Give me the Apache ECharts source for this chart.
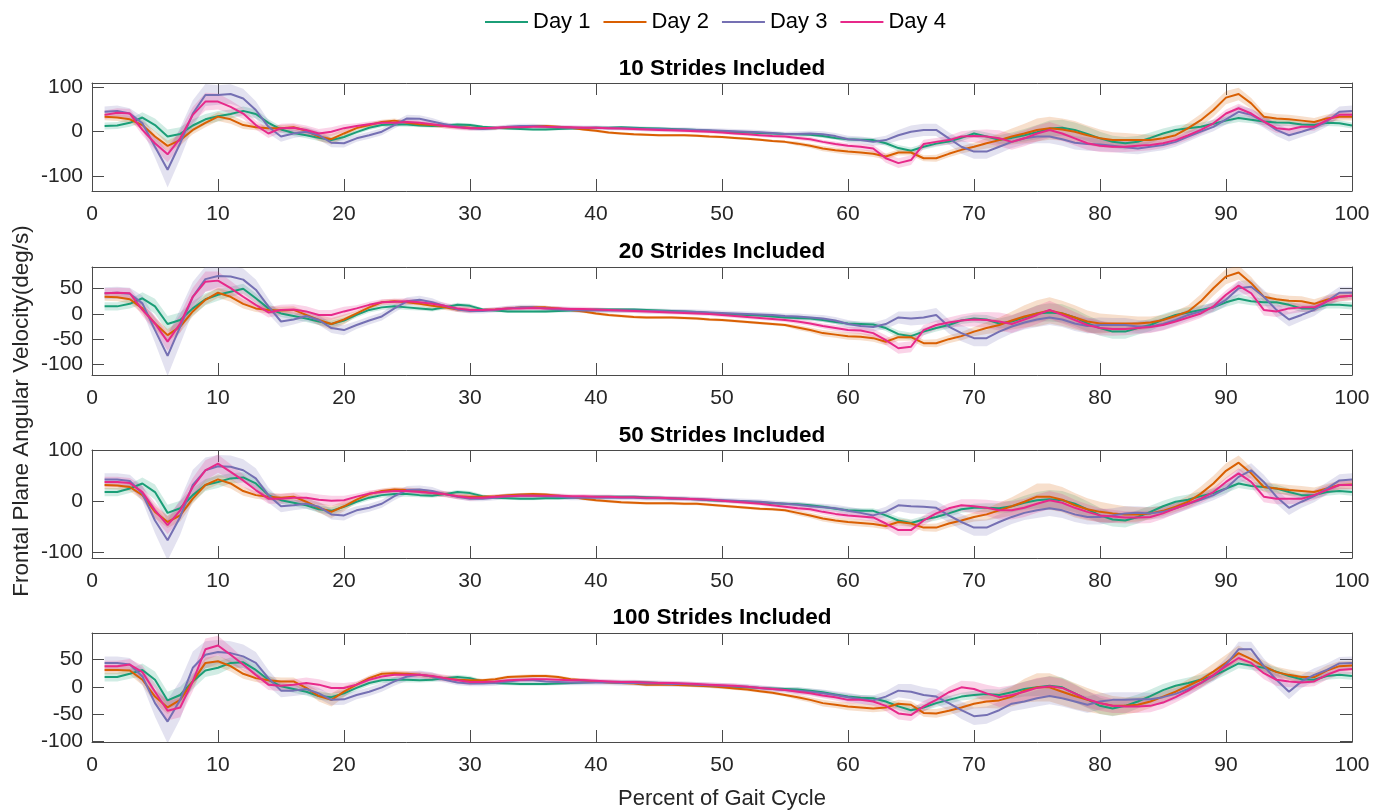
<!DOCTYPE html>
<html><head><meta charset="utf-8">
<script src="https://cdn.jsdelivr.net/npm/echarts@6/dist/echarts.min.js"></script>
<style>html,body{margin:0;padding:0;background:#fff}#c{width:1386px;height:812px}</style>
</head><body><div id="c"></div>
<script>
// ---------------- DATA ----------------
const dayNames = ['Day 1', 'Day 2', 'Day 3', 'Day 4'];
const panelTitles = ['10 Strides Included', '20 Strides Included', '50 Strides Included', '100 Strides Included'];
const xTicks = [0, 10, 20, 30, 40, 50, 60, 70, 80, 90, 100];
const yTicks10 = [-100, 0, 100];
const yTicks20 = [-100, -50, 0, 50];
const yTicks50 = [-100, 0, 100];
const yTicks100 = [-100, -50, 0, 50];
const yRange10 = [-134, 110];
const yRange20 = [-121, 93];
const yRange50 = [-112, 101];
const yRange100 = [-101.5, 99];
// gait cycle percent 1..100 (one sample per percent)
const gaitPercent = Array.from({length: 100}, (_, i) => i + 1);

// 10 strides
const day1_10 = [13,14,20,32,15,-11,-5,14,28,35, 40,47,40,20,5,-3,-8,-14,-19,-12, -1,9,15,17,16,14,13,14,16,15, 11,9,7,6,5,5,6,7,8,9, 9,10,9,8,7,6,5,4,2,0, -1,-2,-3,-4,-5,-6,-7,-10,-14,-17, -18,-19,-26,-37,-43,-34,-27,-22,-14,-4, -11,-18,-14,-8,-1,7,9,4,-5,-15, -23,-26,-23,-14,-4,4,8,11,18,25, 31,27,23,21,20,16,15,20,19,14];
const day2_10 = [34,32,28,15,-11,-32,-19,4,20,34, 28,15,10,8,8,10,2,-11,-17,-4, 8,15,22,25,20,17,15,13,11,9, 8,8,10,11,13,13,11,9,5,2, -2,-4,-6,-7,-8,-8,-8,-9,-11,-12, -14,-16,-18,-21,-23,-27,-32,-38,-42,-45, -47,-50,-56,-47,-47,-60,-60,-50,-41,-34, -26,-19,-11,-4,4,8,5,0,-8,-15, -19,-19,-19,-19,-15,-8,8,26,49,77, 85,64,34,30,28,25,22,30,34,34];
const day3_10 = [45,47,41,19,-34,-86,-26,41,83,83, 85,75,49,11,-11,-4,0,-8,-25,-26, -15,-8,0,15,30,29,23,17,11,8, 6,8,11,13,13,11,10,9,9,9, 8,8,7,6,6,5,5,4,3,2, 1,0,-1,-3,-5,-5,-4,-6,-10,-17, -19,-23,-19,-8,0,4,4,-15,-34,-45, -45,-34,-23,-15,-11,-11,-17,-25,-28,-29, -32,-35,-38,-34,-30,-23,-11,0,11,28, 45,38,23,4,-8,0,9,23,45,47];
const day4_10 = [38,43,41,4,-26,-51,-15,38,68,68, 56,41,15,-4,8,9,4,-4,0,8, 13,17,20,20,22,20,17,13,10,8, 8,9,10,10,11,11,10,10,9,9, 8,7,6,5,4,3,2,1,0,-2, -4,-6,-8,-10,-11,-14,-17,-23,-28,-32, -34,-38,-60,-71,-64,-28,-23,-19,-11,-10, -11,-15,-23,-15,-4,4,-4,-15,-26,-32, -34,-34,-32,-30,-26,-19,-8,4,19,41, 53,41,23,8,5,11,11,26,38,38];

// 20 strides
const day1_20 = [15,15,20,31,15,-20,-12,11,29,38, 44,50,31,11,1,-4,-9,-15,-20,-13, -2,8,13,15,13,11,9,13,18,16, 9,7,5,5,5,5,6,7,8,9, 9,9,9,8,7,6,5,4,2,0, -1,-2,-3,-5,-7,-8,-9,-12,-16,-19, -20,-21,-28,-40,-44,-35,-28,-22,-13,-9, -11,-19,-15,-7,1,3,1,-7,-19,-28, -35,-35,-28,-22,-11,-2,3,8,13,23, 30,25,23,23,18,11,11,18,18,16];
const day2_20 = [34,33,29,11,-19,-42,-25,5,28,42, 34,20,11,8,7,8,-2,-12,-20,-11, 1,13,23,25,23,20,16,13,9,8, 8,9,11,13,13,13,11,8,5,1, -2,-4,-6,-7,-7,-7,-8,-9,-11,-12, -14,-16,-18,-20,-22,-27,-32,-38,-41,-44, -45,-48,-55,-46,-46,-58,-58,-50,-44,-35, -28,-22,-13,-5,1,7,1,-7,-15,-19, -19,-19,-19,-17,-12,-4,5,25,51,74, 82,61,34,29,26,25,20,28,34,36];
const day3_20 = [41,42,40,21,-32,-83,-25,34,69,75, 74,68,48,15,-15,-11,-4,-12,-28,-32, -22,-13,-5,11,25,28,23,16,9,6, 6,8,11,13,13,11,9,8,7,7, 7,7,7,6,6,5,5,4,3,2, 1,0,-1,-2,-4,-5,-7,-9,-13,-20, -24,-26,-20,-7,-9,-7,-2,-25,-38,-48, -48,-35,-25,-17,-11,-7,-11,-19,-24,-22, -22,-22,-25,-25,-20,-12,-2,5,13,28, 51,54,34,8,-11,-2,8,25,42,42];
const day4_20 = [41,42,41,8,-19,-55,-19,34,64,66, 51,34,18,3,8,9,5,-2,-2,5, 11,18,23,24,25,23,20,16,11,8, 8,9,11,11,12,11,11,10,10,9, 8,7,6,5,4,3,2,1,0,-2, -4,-6,-8,-10,-12,-15,-19,-24,-28,-32, -33,-38,-52,-68,-65,-32,-22,-17,-13,-11, -12,-15,-20,-11,-2,8,-2,-12,-22,-28, -30,-30,-28,-26,-22,-15,-7,1,15,38, 56,41,8,5,11,13,13,25,34,36];

// 50 strides
const day1_50 = [18,18,25,35,18,-23,-14,12,32,38, 45,47,35,12,2,-3,-8,-16,-19,-11, -1,7,12,14,14,12,11,14,18,16, 10,7,6,5,5,6,6,7,8,9, 9,9,9,8,7,6,5,4,2,1, 0,-1,-2,-4,-5,-6,-8,-11,-15,-18, -19,-19,-28,-38,-43,-36,-31,-24,-16,-13, -13,-14,-10,-3,2,4,2,-5,-16,-28, -36,-38,-31,-21,-10,-1,3,10,16,25, 35,30,28,25,18,12,12,18,20,18];
const day2_50 = [32,31,28,12,-21,-41,-28,5,32,43, 35,20,12,9,7,9,-1,-13,-21,-10, 3,14,20,23,22,20,16,14,10,9, 9,10,12,13,14,13,11,9,5,2, 0,-2,-3,-4,-4,-4,-5,-5,-7,-9, -11,-13,-15,-16,-18,-23,-28,-34,-38,-41, -43,-45,-49,-41,-44,-52,-52,-44,-38,-31, -26,-18,-10,-1,9,9,3,-8,-16,-21, -24,-26,-26,-24,-19,-11,-1,15,35,60, 76,55,28,25,22,20,18,25,32,33];
const day3_50 = [43,43,40,15,-38,-77,-31,32,61,69, 68,61,45,12,-10,-8,-5,-11,-26,-28, -18,-13,-5,10,22,23,20,14,9,5, 5,7,10,11,11,10,9,7,7,7, 7,7,7,6,6,5,5,4,3,2, 1,0,-1,-3,-5,-7,-10,-12,-14,-19, -23,-28,-21,-8,-10,-11,-13,-28,-41,-52, -52,-41,-31,-23,-18,-14,-18,-26,-31,-31, -28,-24,-23,-24,-21,-14,-5,3,12,25, 48,61,38,9,-13,-1,10,25,41,43];
const day4_50 = [38,38,36,18,-18,-47,-18,28,61,74, 58,41,22,5,5,7,7,3,1,2, 9,15,18,20,20,18,16,14,10,7, 7,9,10,11,11,11,11,10,10,9, 9,8,8,7,7,6,5,4,3,1, -1,-3,-5,-8,-11,-14,-16,-21,-25,-28, -30,-32,-44,-57,-57,-38,-24,-14,-8,-10, -13,-18,-18,-13,-5,2,-3,-13,-21,-28, -30,-32,-32,-31,-24,-14,-5,5,18,38, 55,38,9,5,5,5,12,22,32,32];

// 100 strides
const day1_100 = [18,18,24,31,13,-25,-15,10,30,35, 44,45,31,13,1,-4,-9,-17,-19,-12, -2,7,12,13,13,12,13,16,18,16, 10,7,6,5,5,5,6,7,8,9, 9,9,9,8,7,6,5,4,2,1, 0,-1,-2,-3,-4,-5,-7,-10,-14,-18, -20,-21,-27,-36,-43,-38,-30,-24,-18,-15, -13,-15,-10,-4,-1,2,-1,-12,-23,-35, -40,-35,-27,-17,-6,2,7,13,20,31, 43,39,35,28,20,14,13,20,22,20];
const day2_100 = [31,31,30,13,-18,-38,-24,10,44,47, 38,24,16,12,10,10,-2,-17,-24,-9, 4,16,24,25,24,22,19,16,13,12, 12,14,18,19,20,20,18,14,12,10, 8,7,6,4,4,4,3,2,1,-1, -3,-5,-8,-11,-15,-19,-24,-30,-33,-36, -38,-40,-38,-31,-33,-48,-49,-44,-38,-31, -27,-25,-18,-7,-1,-1,-9,-17,-24,-30, -35,-35,-33,-27,-18,-9,2,13,28,44, 62,51,38,27,22,18,18,30,38,39];
const day3_100 = [44,44,41,19,-30,-64,-24,35,59,64, 62,56,44,16,-7,-7,-4,-12,-24,-23, -15,-9,-1,10,19,22,19,13,8,6, 6,7,10,12,12,10,9,8,8,8, 8,7,7,6,6,5,5,4,3,2, 1,0,-2,-4,-6,-7,-9,-12,-15,-19, -23,-25,-18,-7,-9,-15,-18,-30,-43,-54, -52,-43,-31,-27,-21,-17,-21,-27,-33,-27, -24,-24,-23,-23,-19,-13,-4,7,20,41, 69,69,38,13,-9,10,22,31,43,44];
const day4_100 = [38,38,41,27,-9,-44,-38,10,69,76, 59,41,22,4,2,4,7,4,-2,-2, 4,13,19,22,22,22,20,16,12,9, 9,10,12,13,14,14,13,12,12,11, 10,9,9,8,7,7,6,5,4,3, 2,0,-2,-4,-6,-9,-12,-16,-19,-24, -24,-27,-35,-49,-52,-36,-24,-10,-1,-4, -12,-19,-15,-9,-2,1,-2,-12,-23,-30, -35,-36,-36,-35,-29,-19,-7,7,22,38, 53,44,25,13,10,8,10,22,31,33];

// half-width of the shaded band (spread across strides) per day
const spreadDay1 = [8,8,9,12,15,16,15,14,12,12, 10,10,10,8,7,7,7,7,7,6, 5,5,5,5,5,4,4,4,4,4, 3,3,3,3,3,3,3,3,3,3, 3,3,3,3,3,3,3,3,3,3, 3,3,3,3,3,4,4,4,4,5, 5,5,6,7,7,7,7,7,7,8, 9,10,12,14,16,18,18,17,16,15, 14,14,13,12,11,10,10,9,9,9, 9,8,8,8,7,7,7,7,7,7];
const spreadDay2 = [8,8,8,10,12,12,12,10,10,10, 10,9,7,7,7,7,7,10,12,10, 5,5,5,5,5,5,5,5,5,5, 3,3,3,3,3,3,3,3,3,3, 3,3,3,3,3,3,3,3,3,3, 3,3,3,3,3,5,5,6,6,7, 7,7,7,7,7,7,8,8,8,9, 12,15,18,22,26,26,25,24,22,20, 18,16,14,12,10,10,12,14,15,15, 14,12,10,10,10,10,9,9,9,9];
const spreadDay3 = [12,12,12,15,25,40,35,30,25,22, 22,22,20,15,12,10,10,10,10,10, 8,8,8,8,8,8,8,5,5,5, 5,5,5,5,5,5,5,5,5,5, 5,5,5,5,5,5,5,5,5,5, 5,5,5,5,5,6,6,7,7,8, 8,9,10,12,14,14,14,14,16,16, 16,15,14,14,15,15,15,15,15,15, 14,14,13,12,12,11,11,10,10,12, 14,14,14,14,14,12,12,12,12,12];
const spreadDay4 = [10,10,10,12,15,18,18,18,20,18, 15,12,10,10,10,10,10,10,10,9, 6,6,6,6,6,6,6,6,6,6, 4,4,4,4,4,4,4,4,4,4, 4,4,4,4,4,4,4,4,4,4, 4,4,4,4,4,5,5,5,6,6, 7,8,10,11,11,10,9,10,12,14, 16,18,18,18,18,18,17,16,15,14, 13,12,12,12,11,10,10,9,9,9, 10,10,11,11,11,9,9,9,9,9];

// ---------------- BUILD ----------------
const colors = ['#1b9e77', '#d95f02', '#7570b3', '#e7298a'];
const bandFill = ['rgba(27,158,119,0.2)', 'rgba(217,95,2,0.2)', 'rgba(117,112,179,0.2)', 'rgba(231,41,138,0.2)'];
const FONT = '"Liberation Sans", Arial, Helvetica, sans-serif';
const means = [
  [day1_10, day2_10, day3_10, day4_10],
  [day1_20, day2_20, day3_20, day4_20],
  [day1_50, day2_50, day3_50, day4_50],
  [day1_100, day2_100, day3_100, day4_100]
];
const spreads = [spreadDay1, spreadDay2, spreadDay3, spreadDay4];
const yTicks = [yTicks10, yTicks20, yTicks50, yTicks100];
const yRanges = [yRange10, yRange20, yRange50, yRange100];
const gridTops = [83, 267, 450, 633];
const gridHeights = [108, 108, 108, 109];
const titleY = [69, 252, 436, 618];
const axisColor = '#4a4a4a';

function bandRenderer(p, d) {
  return function (params, api) {
    if (params.dataIndex !== 0) return null;
    const m = means[p][d], s = spreads[d];
    const pts = [];
    for (let i = 0; i < gaitPercent.length; i++) pts.push(api.coord([gaitPercent[i], m[i] + s[i]]));
    for (let i = gaitPercent.length - 1; i >= 0; i--) pts.push(api.coord([gaitPercent[i], m[i] - s[i]]));
    return {type: 'polygon', shape: {points: pts}, style: {fill: bandFill[d], stroke: null}, silent: true};
  };
}

const grids = [], xAxes = [], yAxes = [], series = [], graphics = [];
for (let p = 0; p < 4; p++) {
  grids.push({left: 92, right: 34, top: gridTops[p], height: gridHeights[p], containLabel: false});
  const xBase = {gridIndex: p, type: 'value', min: 0, max: 100, interval: 10,
    splitLine: {show: false},
    axisLine: {show: true, onZero: false, lineStyle: {color: axisColor, width: 1}},
    axisTick: {show: true, inside: true, length: 12, lineStyle: {color: axisColor, width: 1}}};
  xAxes.push(Object.assign({}, xBase, {position: 'bottom',
    axisLabel: {show: true, fontSize: 21, color: '#262626', fontFamily: FONT, margin: 13}}));
  xAxes.push(Object.assign({}, xBase, {position: 'top', axisLabel: {show: false}}));
  const yBase = {gridIndex: p, type: 'value', min: yRanges[p][0], max: yRanges[p][1],
    splitLine: {show: false},
    axisLine: {show: true, onZero: false, lineStyle: {color: axisColor, width: 1}},
    axisTick: {show: true, inside: true, length: 12, customValues: yTicks[p], lineStyle: {color: axisColor, width: 1}}};
  yAxes.push(Object.assign({}, yBase, {position: 'left',
    axisLabel: {show: true, customValues: yTicks[p], fontSize: 21, color: '#262626', fontFamily: FONT, margin: 9}}));
  yAxes.push(Object.assign({}, yBase, {position: 'right', axisLabel: {show: false}}));

  for (let d = 0; d < 4; d++) {
    const m = means[p][d], s = spreads[d];
    series.push({type: 'custom', name: 'band' + p + d, xAxisIndex: 2 * p, yAxisIndex: 2 * p,
      clip: true, silent: true, z: 2, renderItem: bandRenderer(p, d),
      encode: {x: 0, y: [1, 2]},
      data: gaitPercent.map((x, i) => [x, m[i] - s[i], m[i] + s[i]])});
  }
  for (let d = 0; d < 4; d++) {
    series.push({type: 'line', name: dayNames[d], xAxisIndex: 2 * p, yAxisIndex: 2 * p,
      symbol: 'none', z: 3, color: colors[d], lineStyle: {color: colors[d], width: 2},
      data: gaitPercent.map((x, i) => [x, means[p][d][i]])});
  }
  graphics.push({type: 'text', x: 722, y: titleY[p], style: {text: panelTitles[p],
    font: 'bold 22.5px ' + FONT, fill: '#000', align: 'center', verticalAlign: 'middle',
    textAlign: 'center', textVerticalAlign: 'middle'}});
}
graphics.push({type: 'text', x: 722, y: 799, style: {text: 'Percent of Gait Cycle',
  font: '22px ' + FONT, fill: '#262626', align: 'center', verticalAlign: 'middle',
  textAlign: 'center', textVerticalAlign: 'middle'}});
graphics.push({type: 'text', x: 22, y: 411, rotation: Math.PI / 2, style: {text: 'Frontal Plane Angular Velocity(deg/s)',
  font: '22.5px ' + FONT, fill: '#262626', align: 'center', verticalAlign: 'middle',
  textAlign: 'center', textVerticalAlign: 'middle'}});

const chart = echarts.init(document.getElementById('c'), null, {renderer: 'canvas'});
chart.setOption({
  animation: false,
  backgroundColor: '#fff',
  legend: {data: dayNames, left: 485, top: 11, padding: 0, icon: 'rect', itemWidth: 43, itemHeight: 2,
    itemGap: 13, textStyle: {fontSize: 22, color: '#000', fontFamily: FONT}},
  grid: grids, xAxis: xAxes, yAxis: yAxes, series: series, graphic: graphics
});
</script></body></html>
